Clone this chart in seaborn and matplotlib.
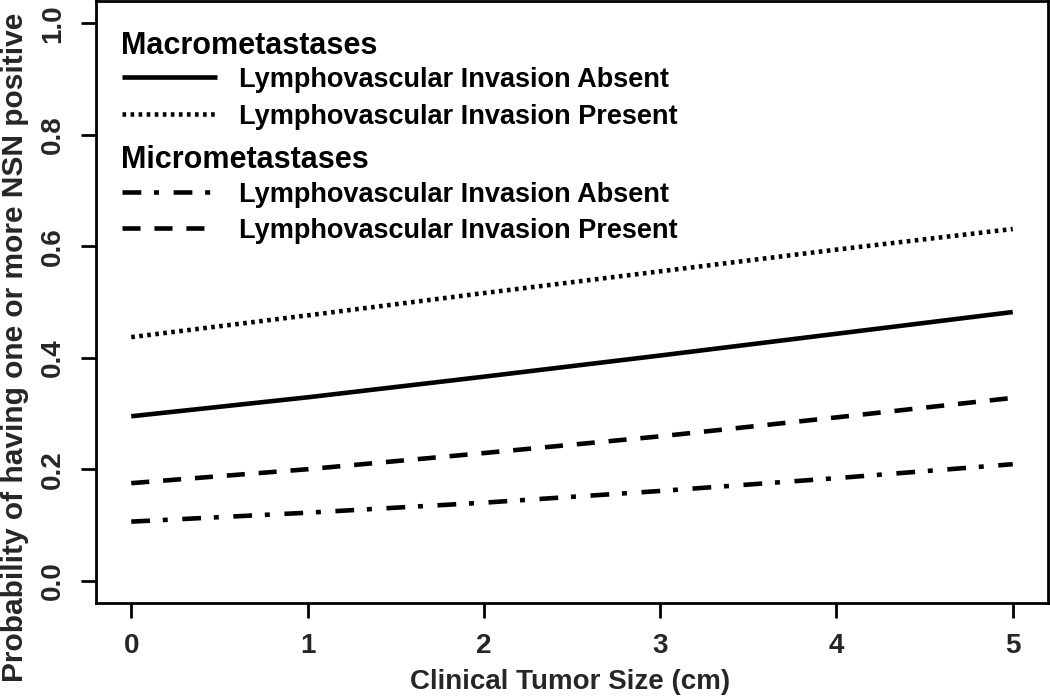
import matplotlib
matplotlib.use("Agg")
import matplotlib.pyplot as plt
import seaborn as sns
import numpy as np

# ---- data ----
tumor_size = [0, 1, 2, 3, 4, 5]
macro_lvi_absent = [0.295, 0.329, 0.366, 0.404, 0.443, 0.482]
macro_lvi_present = [0.437, 0.476, 0.516, 0.555, 0.594, 0.631]
micro_lvi_absent = [0.106, 0.122, 0.140, 0.161, 0.184, 0.209]
micro_lvi_present = [0.175, 0.200, 0.229, 0.259, 0.293, 0.328]

x_ticks = [0, 1, 2, 3, 4, 5]
y_ticks = [0.0, 0.2, 0.4, 0.6, 0.8, 1.0]
y_tick_labels = ["0.0", "0.2", "0.4", "0.6", "0.8", "1.0"]

group_titles = ["Macrometastases", "Micrometastases"]
entry_labels = ["Lymphovascular Invasion Absent", "Lymphovascular Invasion Present"]

x_label = "Clinical Tumor Size (cm)"
y_label = "Probability of having one or more NSN positive"

# ---- style ----
sns.set_theme(style="white")
plt.rcParams["font.family"] = ["Liberation Sans", "DejaVu Sans"]
plt.rcParams["font.weight"] = "bold"
plt.rcParams["lines.scale_dashes"] = False

LW = 3.3
styles = {
    "solid": "-",
    "dotted": (0, (2.6, 3.2)),
    "dashed": (0, (13, 10)),
    "dashdot": (0, (13.5, 9.2, 3.6, 10.5)),
}

fig = plt.figure(figsize=(10.5, 6.96), dpi=100)
ax = fig.add_axes([96 / 1050, (696 - 603) / 696, 952 / 1050, 602 / 696])

series = [
    (macro_lvi_absent, styles["solid"]),
    (macro_lvi_present, styles["dotted"]),
    (micro_lvi_absent, styles["dashdot"]),
    (micro_lvi_present, styles["dashed"]),
]
for vals, ls in series:
    sns.lineplot(x=tumor_size, y=vals, ax=ax, color="black", linewidth=LW,
                 linestyle=ls, legend=False)
for line in ax.get_lines():
    line.set_dash_capstyle("butt")
    line.set_solid_capstyle("butt")

ax.set_xlim(-0.2, 5.2)
ax.set_ylim(-0.04, 1.04)
ax.set_xticks(x_ticks)
ax.set_xticklabels([str(t) for t in x_ticks])
ax.set_yticks(y_ticks)
ax.set_yticklabels(y_tick_labels, rotation=90, va="center")

for sp in ax.spines.values():
    sp.set_visible(True)
    sp.set_color("black")
    sp.set_linewidth(2.0)

ax.tick_params(axis="both", which="major", direction="out", length=10.5,
               width=2.0, color="black", labelsize=20, pad=11,
               bottom=True, left=True)
for lab in ax.get_xticklabels() + ax.get_yticklabels():
    lab.set_fontweight("bold")

ax.set_xlabel(x_label, fontsize=20, fontweight="bold")
ax.set_ylabel(y_label, fontsize=21.5, fontweight="bold")
ax.xaxis.set_label_coords(0.498, -0.11)
ax.yaxis.set_label_coords(-0.070, 0.424)

# ---- legend (R-style, no box) ----
def px2ax(px, py):
    return (px - 96) / 952, (603 - py) / 602

title_rows = [42, 156]
entry_rows = [[77, 114], [192, 228]]
entry_styles = [[styles["solid"], styles["dotted"]],
                [styles["dashdot"], styles["dashed"]]]

for g in range(2):
    tx, ty = px2ax(121, title_rows[g])
    ax.text(tx, ty, group_titles[g], transform=ax.transAxes, fontsize=22,
            fontweight="bold", ha="left", va="center_baseline", color="black")
    for k in range(2):
        x1, yy = px2ax(122, entry_rows[g][k])
        x2, _ = px2ax(217, entry_rows[g][k])
        ax.plot([x1, x2], [yy, yy], transform=ax.transAxes, color="black",
                linewidth=LW, linestyle=entry_styles[g][k], clip_on=False,
                dash_capstyle="butt", solid_capstyle="butt")
        lx, _ = px2ax(239, entry_rows[g][k])
        ax.text(lx, yy, entry_labels[k], transform=ax.transAxes, fontsize=19.5,
                fontweight="bold", ha="left", va="center_baseline", color="black")

fig.savefig("out.png", dpi=100, facecolor="white")
